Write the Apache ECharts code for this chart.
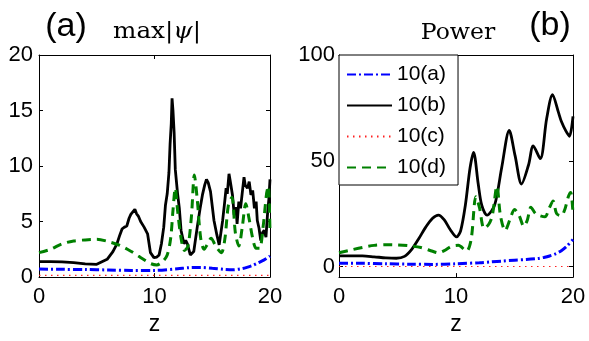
<!DOCTYPE html>
<html><head><meta charset="utf-8">
<script src="https://cdn.jsdelivr.net/npm/echarts@6/dist/echarts.min.js"></script>
<style>html,body{margin:0;padding:0;background:#fff}#c{width:589px;height:341px}</style>
</head><body><div id="c"></div>
<script>
// ---------- data ----------
const seriesNames = ['10(a)', '10(b)', '10(c)', '10(d)'];
const xTicks = [0, 10, 20];
const yTicksA = [0, 5, 10, 15, 20];
const yTicksB = [0, 50, 100];

// Panel (a): max|psi|
const zA_a = [0, 2, 4, 6, 8, 10, 12, 13, 14, 15, 16, 16.8, 17.5, 18, 18.5, 19, 19.5, 20];
const vA_a = [0.72, 0.7, 0.68, 0.64, 0.6, 0.6, 0.75, 0.85, 0.87, 0.8, 0.7, 0.66, 0.75, 0.88, 1.05, 1.3, 1.55, 1.9];
const zA_b = [0, 1, 2, 3, 4, 5, 5.9, 6.4, 6.75, 7.0, 7.2, 7.4, 7.6, 7.8, 7.95, 8.1, 8.3, 8.45, 8.6, 8.8, 9.1, 9.4, 9.65, 9.95, 10.2, 10.4, 10.6, 10.8, 10.95, 11.1, 11.25, 11.35, 11.45, 11.52, 11.6, 11.7, 11.8, 12.0, 12.15, 12.3, 12.55, 12.7, 12.85, 13.1, 13.4, 13.7, 13.95, 14.15, 14.35, 14.5, 14.65, 14.85, 15.15, 15.4, 15.6, 15.9, 16.05, 16.2, 16.3, 16.45, 16.55, 16.75, 16.9, 17.05, 17.15, 17.3, 17.45, 17.6, 17.75, 17.85, 18.05, 18.2, 18.35, 18.5, 18.65, 18.8, 18.9, 19.05, 19.2, 19.35, 19.5, 19.65, 19.8, 19.9, 20];
const vA_b = [1.4, 1.4, 1.38, 1.3, 1.2, 1.15, 1.6, 2.3, 3.0, 3.8, 4.35, 4.5, 4.6, 5.3, 5.65, 5.5, 6.1, 5.7, 5.5, 5.0, 4.5, 3.9, 2.2, 1.75, 1.8, 2.0, 3.0, 4.5, 6.5, 7.5, 9.4, 12.0, 13.8, 16.1, 15.0, 13.0, 9.7, 7.5, 6.2, 4.2, 3.0, 3.3, 3.0, 2.0, 2.3, 4.5, 6.2, 7.4, 8.3, 8.8, 8.5, 7.7, 5.1, 3.8, 2.9, 5.1, 6.5, 8.0, 7.5, 9.3, 8.7, 7.4, 5.6, 6.3, 4.8, 6.8, 6.2, 7.6, 9.0, 8.3, 8.0, 8.6, 7.4, 7.8, 6.2, 6.8, 5.1, 4.4, 3.3, 4.0, 4.2, 3.6, 5.9, 7.0, 8.8];
const zA_c = [0, 20];
const vA_c = [0.15, 0.15];
const zA_d = [0, 1, 2, 3, 4, 5, 6, 7, 8, 8.6, 9.2, 9.7, 10.2, 10.7, 11.1, 11.4, 11.6, 11.8, 12.0, 12.3, 12.6, 12.9, 13.2, 13.45, 13.7, 14.0, 14.3, 14.6, 14.9, 15.2, 15.5, 15.8, 16.1, 16.4, 16.7, 17.0, 17.3, 17.6, 17.9, 18.2, 18.5, 18.8, 19.1, 19.4, 19.7, 19.85, 20];
const vA_d = [2.2, 2.5, 3.0, 3.25, 3.35, 3.4, 3.2, 2.85, 2.3, 1.9, 1.5, 1.2, 1.1, 1.4, 2.0, 3.5, 6.0, 8.0, 6.0, 3.5, 2.4, 2.8, 5.5, 9.2, 7.0, 3.5, 2.5, 3.0, 3.5, 3.0, 2.5, 2.2, 3.5, 6.5, 7.2, 4.0, 2.8, 4.5, 6.6, 5.2, 3.5, 2.6, 2.6, 4.5, 7.5, 8.2, 4.0];

// Panel (b): Power
const zB_a = [0, 2, 4, 6, 8, 10, 12, 13, 14, 15, 16, 17, 17.5, 18, 18.5, 19, 19.5, 20];
const vB_a = [1.5, 1.5, 1.3, 1.1, 1.0, 1.3, 1.8, 2.2, 2.6, 3.0, 3.3, 3.8, 4.3, 5.0, 6.0, 7.5, 9.8, 12.8];
const zB_b = [0, 1, 2, 3, 4, 4.9, 5.6, 6.2, 6.8, 7.4, 8.0, 8.5, 9.0, 9.5, 10.05, 10.4, 10.8, 11.2, 11.5, 11.9, 12.2, 12.65, 13.3, 13.9, 14.55, 15.05, 15.6, 16.2, 16.6, 17.2, 17.75, 18.25, 18.75, 19.0, 19.4, 19.7, 20];
const vB_b = [5, 5, 5, 4.6, 4.1, 3.9, 4.8, 8.0, 13, 18.5, 22.8, 24.3, 22, 17.5, 14, 17, 29, 46.6, 54, 39, 29, 24.3, 29, 46.6, 64.3, 52.4, 39, 48, 57, 51, 70, 81.3, 73, 68.7, 64, 61.6, 71];
const zB_c = [0, 20];
const vB_c = [0, 0];
const zB_d = [0, 1, 2, 3, 4, 5, 6, 7, 8.0, 8.5, 9.0, 9.6, 10.2, 10.9, 11.3, 11.7, 12.0, 12.4, 12.8, 13.1, 13.5, 13.8, 14.2, 14.6, 15.0, 15.4, 15.8, 16.1, 16.4, 16.8, 17.2, 17.6, 18.0, 18.3, 18.6, 19.0, 19.3, 19.6, 19.8, 20];
const vB_d = [6.5, 7.8, 9.0, 10.0, 10.3, 10.2, 9.8, 9.0, 7.2, 6.5, 7.5, 9.5, 10.0, 7.3, 13, 33, 28, 18, 20, 24, 38, 24, 17, 22, 27, 24, 19, 22, 28, 25, 24, 23.5, 28, 31, 25, 24, 27, 33, 35, 25];

// ---------- styling ----------
const zip = (z, v) => z.map((x, i) => [x, v[i]]);
const styles = {
  '10(a)': { color: '#0000ff', width: 3, type: [9, 3, 2, 3], smooth: 0.3 },
  '10(b)': { color: '#000000', width: 2.8, type: 'solid', smooth: false },
  '10(c)': { color: '#ff2020', width: 1.2, type: [1.5, 4.5], smooth: false },
  '10(d)': { color: '#008000', width: 3, type: [9, 6], smooth: 0.3 }
};
function mkSeries(name, z, v, xi, yi, smoothOverride) {
  const s = styles[name];
  return {
    name, type: 'line', xAxisIndex: xi, yAxisIndex: yi, data: zip(z, v),
    symbol: 'none', showSymbol: false, smooth: smoothOverride !== undefined ? smoothOverride : s.smooth,
    lineStyle: { color: s.color, width: s.width, type: s.type },
    itemStyle: { color: s.color }, animation: false, silent: true
  };
}
const labelFont = { fontFamily: 'Liberation Sans', fontSize: 22, color: '#000' };
const axLine = { show: true, onZero: false, lineStyle: { color: '#000', width: 1 } };
function xAx(gi, pos, showLabel) {
  return {
    type: 'value', gridIndex: gi, position: pos, min: 0, max: 20, interval: 10,
    axisLine: axLine, splitLine: { show: false },
    axisTick: { show: true, inside: true, length: 4, lineStyle: { color: '#000' } },
    axisLabel: Object.assign({ show: showLabel, margin: 9, formatter: v => xTicks.includes(v) ? String(v) : '' }, labelFont),
    name: showLabel ? 'z' : '', nameLocation: 'middle', nameGap: 30,
    nameTextStyle: { fontFamily: 'Liberation Sans', fontSize: 23, color: '#000' }
  };
}
function yAxA(pos, showLabel) {
  return {
    type: 'value', gridIndex: 0, position: pos, min: 0, max: 20, interval: 5,
    axisLine: axLine, splitLine: { show: false },
    axisTick: { show: true, inside: true, length: 4, lineStyle: { color: '#000' } },
    axisLabel: Object.assign({ show: showLabel, margin: 6, formatter: v => yTicksA.includes(v) ? String(v) : '' }, labelFont)
  };
}
function yAxB(pos, showLabel) {
  return {
    type: 'value', gridIndex: 1, position: pos, min: -5, max: 100,
    axisLine: axLine, splitLine: { show: false },
    axisTick: { show: true, inside: true, length: 4, customValues: yTicksB, lineStyle: { color: '#000' } },
    axisLabel: Object.assign({ show: showLabel, margin: 4, customValues: yTicksB }, labelFont)
  };
}

const chart = echarts.init(document.getElementById('c'), null, { renderer: 'canvas' });
chart.setOption({
  backgroundColor: '#fff',
  animation: false,
  grid: [
    { left: 39, top: 55, width: 231, height: 230, show: false },
    { left: 339, top: 55, width: 234, height: 234, show: false }
  ],
  xAxis: [xAx(0, 'bottom', true), xAx(0, 'top', false), xAx(1, 'bottom', true), xAx(1, 'top', false)],
  yAxis: [yAxA('left', true), yAxA('right', false), yAxB('left', true), yAxB('right', false)],
  legend: {
    data: seriesNames, orient: 'vertical', left: 339, top: 55,
    itemWidth: 45, itemHeight: 14, itemGap: 10, padding: [9, 12, 7, 7],
    borderColor: '#000', borderWidth: 1, backgroundColor: '#fff', borderRadius: 0,
    selectedMode: false,
    itemStyle: { opacity: 0, borderWidth: 0 },
    textStyle: { fontFamily: 'Liberation Sans', fontSize: 21, lineHeight: 21, color: '#000' }
  },
  graphic: [
    { type: 'text', x: 66, y: 27, style: { text: '(a)', font: '34px "Liberation Sans"', fill: '#000', textAlign: 'center', textVerticalAlign: 'middle' } },
    { type: 'text', x: 157, y: 32, scaleX: 1.12, style: {
        text: '{n|max|}{i|ψ}{n||}', textAlign: 'center', textVerticalAlign: 'middle',
        rich: { n: { fontFamily: 'DejaVu Serif', fontSize: 22, fill: '#000', color: '#000' },
                i: { fontFamily: 'DejaVu Serif', fontStyle: 'italic', fontSize: 22, fill: '#000', color: '#000' } } } },
    { type: 'text', x: 458, y: 33, scaleX: 1.07, style: { text: 'Power', font: '22px "DejaVu Serif"', fill: '#000', textAlign: 'center', textVerticalAlign: 'middle' } },
    { type: 'text', x: 550, y: 26, style: { text: '(b)', font: '34px "Liberation Sans"', fill: '#000', textAlign: 'center', textVerticalAlign: 'middle' } }
  ],
  series: [
    mkSeries('10(a)', zA_a, vA_a, 0, 0),
    mkSeries('10(b)', zA_b, vA_b, 0, 0),
    mkSeries('10(c)', zA_c, vA_c, 0, 0),
    mkSeries('10(d)', zA_d, vA_d, 0, 0),
    mkSeries('10(a)', zB_a, vB_a, 2, 2),
    mkSeries('10(b)', zB_b, vB_b, 2, 2, 0.3),
    mkSeries('10(c)', zB_c, vB_c, 2, 2),
    mkSeries('10(d)', zB_d, vB_d, 2, 2)
  ]
});
</script></body></html>
